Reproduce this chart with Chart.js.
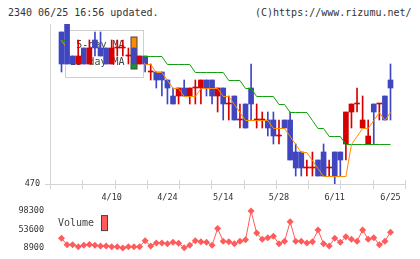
<!DOCTYPE html>
<html><head><meta charset="utf-8">
<script src="https://cdn.jsdelivr.net/npm/chart.js@4"></script>
<style>
html,body{margin:0;padding:0;background:#fff;width:420px;height:259px;overflow:hidden;position:relative}
.t{position:absolute;font-family:'DejaVu Sans Mono',monospace;font-size:10px;color:#333;line-height:12px;white-space:pre}
#c1{position:absolute;left:0;top:0}
#c2{position:absolute;left:0;top:200px}
</style></head><body>
<div class="t" style="left:8px;top:7px">2340 06/25 16:56 updated.</div>
<div class="t" style="left:255px;top:7px">(C)https://www.rizumu.net/</div>
<canvas id="c1" width="420" height="205" style="width:420px;height:205px"></canvas>
<canvas id="c2" width="420" height="59" style="width:420px;height:59px"></canvas>
<script>
const dates = ['3/30','3/31','4/1','4/2','4/3','4/6','4/7','4/8','4/9','4/10',
 '4/13','4/14','4/15','4/16','4/17','4/20','4/21','4/22','4/23','4/24',
 '4/27','4/28','4/30','5/1','5/7','5/8','5/11','5/12','5/13','5/14',
 '5/15','5/18','5/19','5/20','5/21','5/22','5/25','5/26','5/27','5/28',
 '5/29','6/1','6/2','6/3','6/4','6/5','6/8','6/9','6/10','6/11',
 '6/12','6/15','6/16','6/17','6/18','6/19','6/22','6/23','6/24','6/25'];
const labelIdx = [9,19,29,39,49,59];
const open  = [489,490,486,485,487,485,488,487,487,485, 487,487,486,487,485,486,484,484,484,483, 481,481,482,481,482,482,483,483,481,482, 480,481,478,480,482,478,478,478,478,476, 478,478,474,474,472,472,473,474,472,474, 474,475,479,480,477,475,480,480,481,483];
const high  = [489,490,486,488,487,488,489,489,487,488, 488,488,487,487,486,486,485,484,484,483, 482,482,483,482,483,483,483,483,482,482, 481,481,480,480,485,480,479,479,479,478, 478,479,475,474,473,474,473,475,473,474, 474,479,480,482,481,478,480,480,481,485];
const low   = [484,485,485,485,485,485,486,486,485,485, 486,486,485,485,485,484,483,482,481,480, 480,480,481,480,480,480,481,480,479,478, 478,478,477,477,478,477,477,476,475,475, 477,473,471,471,471,471,471,471,471,470, 471,473,477,479,477,475,475,478,478,478];
const close = [485,485,485,486,485,487,487,486,485,487, 487,487,486,485,486,485,484,483,483,482, 480,482,481,482,482,483,482,481,482,480, 480,478,478,477,480,478,478,477,476,476, 477,473,472,472,472,472,471,471,472,471, 473,479,480,480,478,476,479,480,478,482];
const ma5   = [488,487,486,486,485,485,486,486,486,486, 486,486,486,486,486,485,485,484,484,483, 482,482,481,481,481,482,482,482,482,481, 481,480,479,478,478,478,478,478,477,477, 477,476,475,474,474,473,472,471,471,471, 471,471,475,476,477,477,478,479,478,479];
const ma25  = [488,488,488,488,488,487,487,487,487,487, 487,487,487,486,486,486,486,486,486,485, 485,485,485,485,484,484,484,484,484,484, 483,483,483,482,482,481,481,481,481,480, 480,479,479,479,479,478,477,477,476,476, 476,475,475,475,475,475,475,475,475,475];
const volume = [32300,16700,16700,11600,15100,17400,15100,13800,13800,11600,
 11600,8900,11600,11600,11600,26200,13800,21100,21100,18900,
 22700,20500,9300,15100,26200,24000,22700,15100,56000,24900,
 24000,18900,24900,28500,98300,44900,30000,33800,37400,18900,
 24900,72300,24900,24900,21100,24000,52300,18900,13800,32300,
 22700,36000,30000,24900,52300,30000,33800,16700,24900,47200];
const priceTicks = [470];
const volTicks = [8900, 53600, 98300];

const BLUE='#3f46c0', RED='#d60000', ORANGE='#ff8c00', GREEN='#12a012', VOL='#ff5b5b', AX='#d4d4d4';
const MONO="'DejaVu Sans Mono', monospace";
const XMIN=-2.062, XMAX=61.6;
const col = c => (close[c.dataIndex] >= open[c.dataIndex] ? RED : BLUE);
const idx = dates.map((d,i)=>i);
const legendBox = a => ({L:a.left+15.5, T:a.top+6.5, W:78, H:47});

const axisTicks = {
  id:'axisTicks',
  afterDraw(chart){
    const {ctx, chartArea:a} = chart;
    ctx.save(); ctx.strokeStyle=AX; ctx.lineWidth=1;
    for(let k=0;k<=11;k++){
      const x=Math.round(a.left+(a.right-a.left)*k/11)+0.5;
      ctx.beginPath(); ctx.moveTo(x,a.bottom-4); ctx.lineTo(x,a.bottom+5); ctx.stroke();
    }
    ctx.restore();
  }
};
const priceLegend = {
  id:'priceLegend',
  beforeDatasetDraw(chart,args){
    const {ctx, chartArea:a} = chart;
    const {L,T,W,H} = legendBox(a);
    if(args.index<2){
      ctx.save();
      ctx.beginPath(); ctx.rect(0,0,chart.width,chart.height); ctx.rect(L-0.5,T-0.5,W+1,H+1); ctx.clip('evenodd');
      ctx.translate(0,0.5);
      return;
    }
    if(args.index!==2) return;
    ctx.save();
    ctx.fillStyle='#fff'; ctx.fillRect(L,T,W,H);
    ctx.strokeStyle='#cfcfcf'; ctx.lineWidth=1; ctx.strokeRect(L,T,W,H);
    ctx.font="10px "+MONO; ctx.fillStyle='#444'; ctx.textAlign='right'; ctx.textBaseline='middle';
    ctx.fillText('5-day MA',L+59,T+15); ctx.fillText('25-day MA',L+59,T+32);
    ctx.fillStyle=ORANGE; ctx.fillRect(L+65.5,T+6.5,6,16);
    ctx.fillStyle=GREEN; ctx.fillRect(L+65.5,T+22.5,6,16);
    ctx.strokeStyle='#444'; ctx.strokeRect(L+65.5,T+6.5,6,32);
    ctx.restore();
  },
  afterDatasetDraw(chart,args){
    if(args.index<2) chart.ctx.restore();
  }
};

new Chart(document.getElementById('c1'), {
  type:'bar',
  data:{datasets:[
    {type:'line', data:idx.map(i=>({x:i,y:ma25[i]})), borderColor:GREEN, borderWidth:1, pointRadius:0, tension:0, order:2},
    {type:'line', data:idx.map(i=>({x:i,y:ma5[i]})), borderColor:ORANGE, borderWidth:1, pointRadius:0, tension:0, order:1},
    {type:'bar', data:idx.map(i=>({x:i,y:[low[i],high[i]]})), backgroundColor:col, barThickness:1, grouped:false, order:4},
    {type:'bar', data:idx.map(i=>({x:i,y:[open[i],close[i]]})), backgroundColor:col, barThickness:5, minBarLength:1, grouped:false, order:3}
  ]},
  options:{
    responsive:false, animation:false, events:[],
    layout:{padding:{top:24,right:15,left:0,bottom:0}},
    plugins:{legend:{display:false}, tooltip:{enabled:false}},
    scales:{
      x:{type:'linear', min:XMIN, max:XMAX, offset:false,
        grid:{display:false, drawTicks:false},
        border:{display:true, color:AX},
        afterBuildTicks:s=>{ s.ticks = labelIdx.map(v=>({value:v})); },
        ticks:{autoSkip:false, maxRotation:0, padding:9, color:'#333', font:{family:MONO,size:8.5}, callback:v=>dates[v]},
        afterFit:s=>{ s.height=21; }
      },
      y:{min:470, max:490,
        afterBuildTicks:s=>{ s.ticks = priceTicks.map(v=>({value:v})); },
        grid:{display:true, drawOnChartArea:false, drawTicks:true, tickLength:5, color:AX},
        border:{display:true, color:AX},
        ticks:{padding:5, color:'#333', font:{family:MONO,size:8.5}, callback:v=>String(v)},
        afterFit:s=>{ s.width=50; }
      }
    }
  },
  plugins:[axisTicks, priceLegend]
});

const volLegend = {
  id:'volLegend',
  beforeDatasetsDraw(chart){
    const {ctx, chartArea:a} = chart;
    ctx.save();
    ctx.font="10px "+MONO; ctx.fillStyle='#444'; ctx.textAlign='left'; ctx.textBaseline='middle';
    ctx.fillText('Volume', a.left+8, a.top+12.5);
    ctx.fillStyle=VOL; ctx.fillRect(a.left+51.5, a.top+4.5, 6, 15);
    ctx.strokeStyle='#444'; ctx.lineWidth=1; ctx.strokeRect(a.left+51.5, a.top+4.5, 6, 15);
    ctx.restore();
  }
};

new Chart(document.getElementById('c2'), {
  type:'line',
  data:{datasets:[
    {data:idx.map(i=>({x:i,y:volume[i]})), borderColor:VOL, backgroundColor:VOL, borderWidth:1,
     pointStyle:'rectRot', pointRadius:3.5, pointBorderWidth:0, tension:0, clip:false}
  ]},
  options:{
    responsive:false, animation:false, events:[],
    layout:{padding:{top:9,right:15,left:0,bottom:10}},
    plugins:{legend:{display:false}, tooltip:{enabled:false}},
    scales:{
      x:{type:'linear', min:XMIN, max:XMAX, display:false},
      y:{min:8900, max:98300,
        afterBuildTicks:s=>{ s.ticks = volTicks.map(v=>({value:v})); },
        grid:{display:false, drawTicks:false},
        border:{display:false},
        ticks:{padding:6, color:'#333', font:{family:MONO,size:8.5}, callback:v=>String(v)},
        afterFit:s=>{ s.width=50; }
      }
    }
  },
  plugins:[volLegend]
});
</script>
</body></html>
